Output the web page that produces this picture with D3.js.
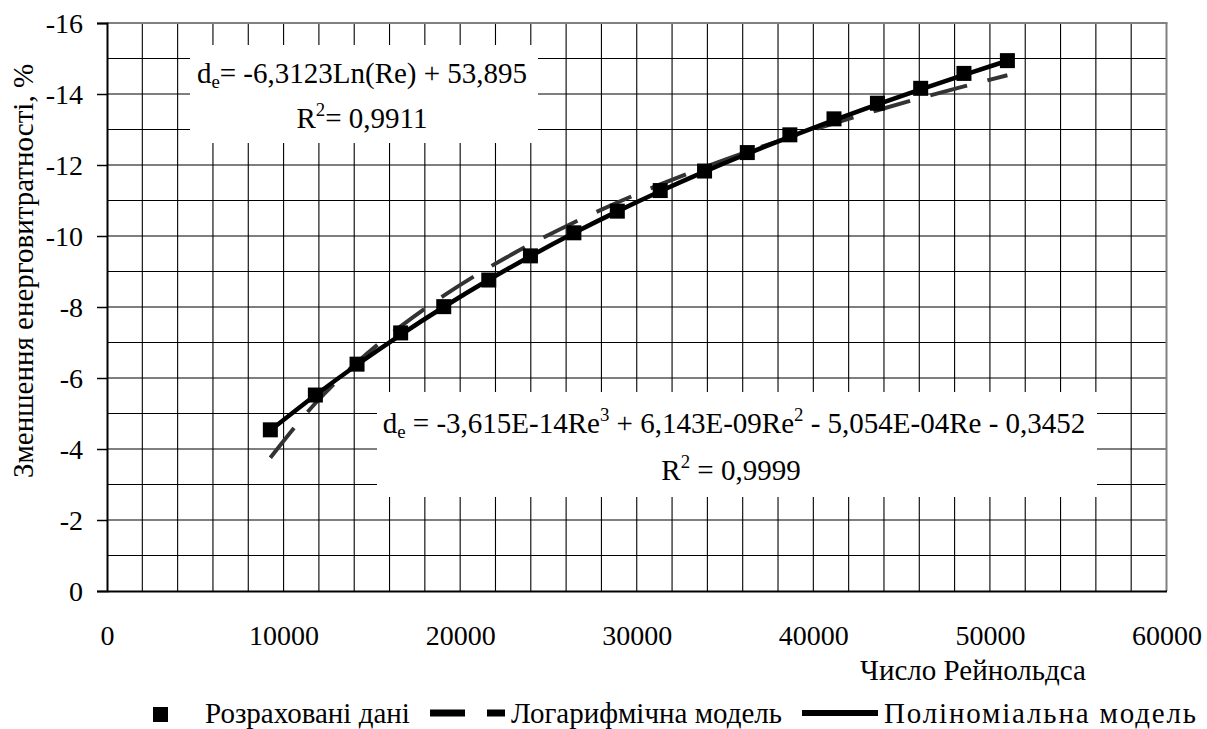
<!DOCTYPE html>
<html><head><meta charset="utf-8">
<script src="https://cdn.jsdelivr.net/npm/d3@7"></script>
</head><body style="margin:0">
<svg id="chart" width="1207" height="729"></svg>
<script>
// ---------- data ----------
const reynolds = [9250, 11800, 14160, 16630, 19070, 21620, 23980, 26440, 28900,
                  31330, 33840, 36260, 38670, 41170, 43630, 46080, 48530, 50990];
const energyReduction = [-4.54, -5.52, -6.39, -7.27, -8.01, -8.76, -9.44, -10.09, -10.70,
                         -11.28, -11.83, -12.35, -12.85, -13.30, -13.74, -14.16, -14.58, -14.94];
// trendline coefficients as printed on the chart
const logCoef = [-6.3123, 53.895];                              // a*ln(Re) + b
const polyCoef = [-3.615e-14, 6.143e-09, -5.054e-04, -0.3452];  // a*Re^3 + b*Re^2 + c*Re + d
const xTickLabels = ["0", "10000", "20000", "30000", "40000", "50000", "60000"];
const yTickLabels = ["0", "-2", "-4", "-6", "-8", "-10", "-12", "-14", "-16"];
const xTitle = "Число Рейнольдса";
const yTitle = "Зменшення енерговитратності, %";
const legendLabels = ["Розраховані дані", "Логарифмічна модель", "Поліноміальна модель"];

const FAM = '"Liberation Serif"';
const svg = d3.select("#chart").style("font-family", FAM);
const L = 107, R = 1166.5, T = 23, B = 591;
const TICKF = 28, F = 29;

const x = d3.scaleLinear().domain([0, 60000]).range([L, R]);
const y = d3.scaleLinear().domain([0, -16]).range([B, T]);

function txt(sel) { return sel.style("font-family", FAM); }

svg.append("rect").attr("width", 1207).attr("height", 729).attr("fill", "#fff");

// grid
const g = svg.append("g");
g.selectAll("line.v").data(d3.range(2000, 60000, 2000)).join("line")
  .attr("x1", d => x(d)).attr("x2", d => x(d)).attr("y1", T).attr("y2", B)
  .attr("stroke", "#000").attr("stroke-width", 1.1);
g.selectAll("line.h").data(d3.range(-1, -16, -1)).join("line")
  .attr("x1", L).attr("x2", R).attr("y1", d => y(d)).attr("y2", d => y(d))
  .attr("stroke", "#000").attr("stroke-width", 1.1);

// border top/right
svg.append("line").attr("x1", L).attr("x2", R + 1).attr("y1", T).attr("y2", T)
  .attr("stroke", "#808080").attr("stroke-width", 2);
svg.append("line").attr("x1", R).attr("x2", R).attr("y1", T).attr("y2", B)
  .attr("stroke", "#808080").attr("stroke-width", 2);

// axes
const xAxis = d3.axisBottom(x).tickValues(d3.range(0, 60001, 10000))
  .tickFormat((d, i) => xTickLabels[i]).tickSize(0);
const xg = svg.append("g").attr("transform", `translate(0,${B})`).call(xAxis)
  .attr("font-family", null).attr("font-size", null);
xg.select(".domain").attr("stroke", "#000").attr("stroke-width", 2);
txt(xg.selectAll("text")).attr("font-size", TICKF).attr("dy", 0).attr("y", 54);

const yAxis = d3.axisLeft(y).tickValues(d3.range(0, -16.1, -2))
  .tickFormat((d, i) => yTickLabels[i]).tickSize(10).tickPadding(14);
const yg = svg.append("g").attr("transform", `translate(${L},0)`).call(yAxis)
  .attr("font-family", null).attr("font-size", null);
yg.select(".domain").attr("stroke", "#000").attr("stroke-width", 2);
yg.selectAll(".tick line").attr("stroke", "#000").attr("stroke-width", 1.5);
txt(yg.selectAll("text")).attr("font-size", TICKF).attr("dy", "0.33em");

// equation boxes
function eqBox(x0, y0, w, h) {
  svg.append("rect").attr("x", x0).attr("y", y0).attr("width", w).attr("height", h).attr("fill", "#fff");
}
eqBox(190, 45, 348, 98);
eqBox(377, 392, 720, 105);

function eqText(cx, by, parts) {
  const t = txt(svg.append("text")).attr("x", cx).attr("y", by).attr("text-anchor", "middle").attr("font-size", F);
  parts.forEach(p => {
    const s = t.append("tspan").text(p[0]);
    if (p[1] === "sub") s.attr("font-size", F * 0.65).attr("dy", 5);
    if (p[1] === "sup") s.attr("font-size", F * 0.65).attr("dy", -12);
    if (p[1] === "back") s.attr("dy", p[2]);
  });
  return t;
}
eqText(362, 83, [["d"], ["e", "sub"], ["= -6,3123Ln(Re) + 53,895", "back", -5]]);
eqText(362, 128, [["R"], ["2", "sup"], ["= 0,9911", "back", 12]]);
eqText(734, 433, [["d"], ["e", "sub"], [" = -3,615E-14Re", "back", -5], ["3", "sup"],
  [" + 6,143E-09Re", "back", 12], ["2", "sup"], [" - 5,054E-04Re - 0,3452", "back", 12]]);
eqText(731, 480, [["R"], ["2", "sup"], [" = 0,9999", "back", 12]]);

// trend lines
const logModel = re => logCoef[0] * Math.log(re) + logCoef[1];
const polyModel = re => ((polyCoef[0] * re + polyCoef[1]) * re + polyCoef[2]) * re + polyCoef[3];
const line = d3.line().x(d => x(d[0])).y(d => y(d[1])).curve(d3.curveMonotoneX);

svg.append("path").datum(reynolds.map(r => [r, logModel(r)]))
  .attr("d", line).attr("fill", "none").attr("stroke", "#333").attr("stroke-width", 4)
  .attr("stroke-dasharray", "38,21");
svg.append("path").datum(reynolds.map(r => [r, polyModel(r)]))
  .attr("d", line).attr("fill", "none").attr("stroke", "#000").attr("stroke-width", 4.5);

// markers
const MS = 15;
svg.selectAll("rect.pt").data(reynolds).join("rect")
  .attr("x", d => x(d) - MS / 2).attr("y", (d, i) => y(energyReduction[i]) - MS / 2)
  .attr("width", MS).attr("height", MS).attr("fill", "#000");

// axis titles
txt(svg.append("text")).attr("x", 973).attr("y", 680).attr("text-anchor", "middle")
  .attr("font-size", F).text(xTitle);
txt(svg.append("text")).attr("transform", "translate(33,271) rotate(-90)").attr("text-anchor", "middle")
  .attr("font-size", F).text(yTitle);

// legend
const ly = 713, lty = 723;
svg.append("rect").attr("x", 153).attr("y", 707).attr("width", 15).attr("height", 15).attr("fill", "#000");
txt(svg.append("text")).attr("x", 205).attr("y", lty).attr("font-size", F).text(legendLabels[0]);
svg.append("line").attr("x1", 430).attr("x2", 505).attr("y1", ly).attr("y2", ly)
  .attr("stroke", "#000").attr("stroke-width", 7).attr("stroke-dasharray", "35,22");
txt(svg.append("text")).attr("x", 511).attr("y", lty).attr("font-size", F).text(legendLabels[1]);
svg.append("line").attr("x1", 802).attr("x2", 878).attr("y1", ly).attr("y2", ly)
  .attr("stroke", "#000").attr("stroke-width", 6);
txt(svg.append("text")).attr("x", 884).attr("y", lty).attr("font-size", F)
  .attr("textLength", 312).attr("lengthAdjust", "spacing").text(legendLabels[2]);

// force text layout with the chosen font
svg.selectAll("text").each(function () { this.getComputedTextLength(); });
</script>
</body></html>
